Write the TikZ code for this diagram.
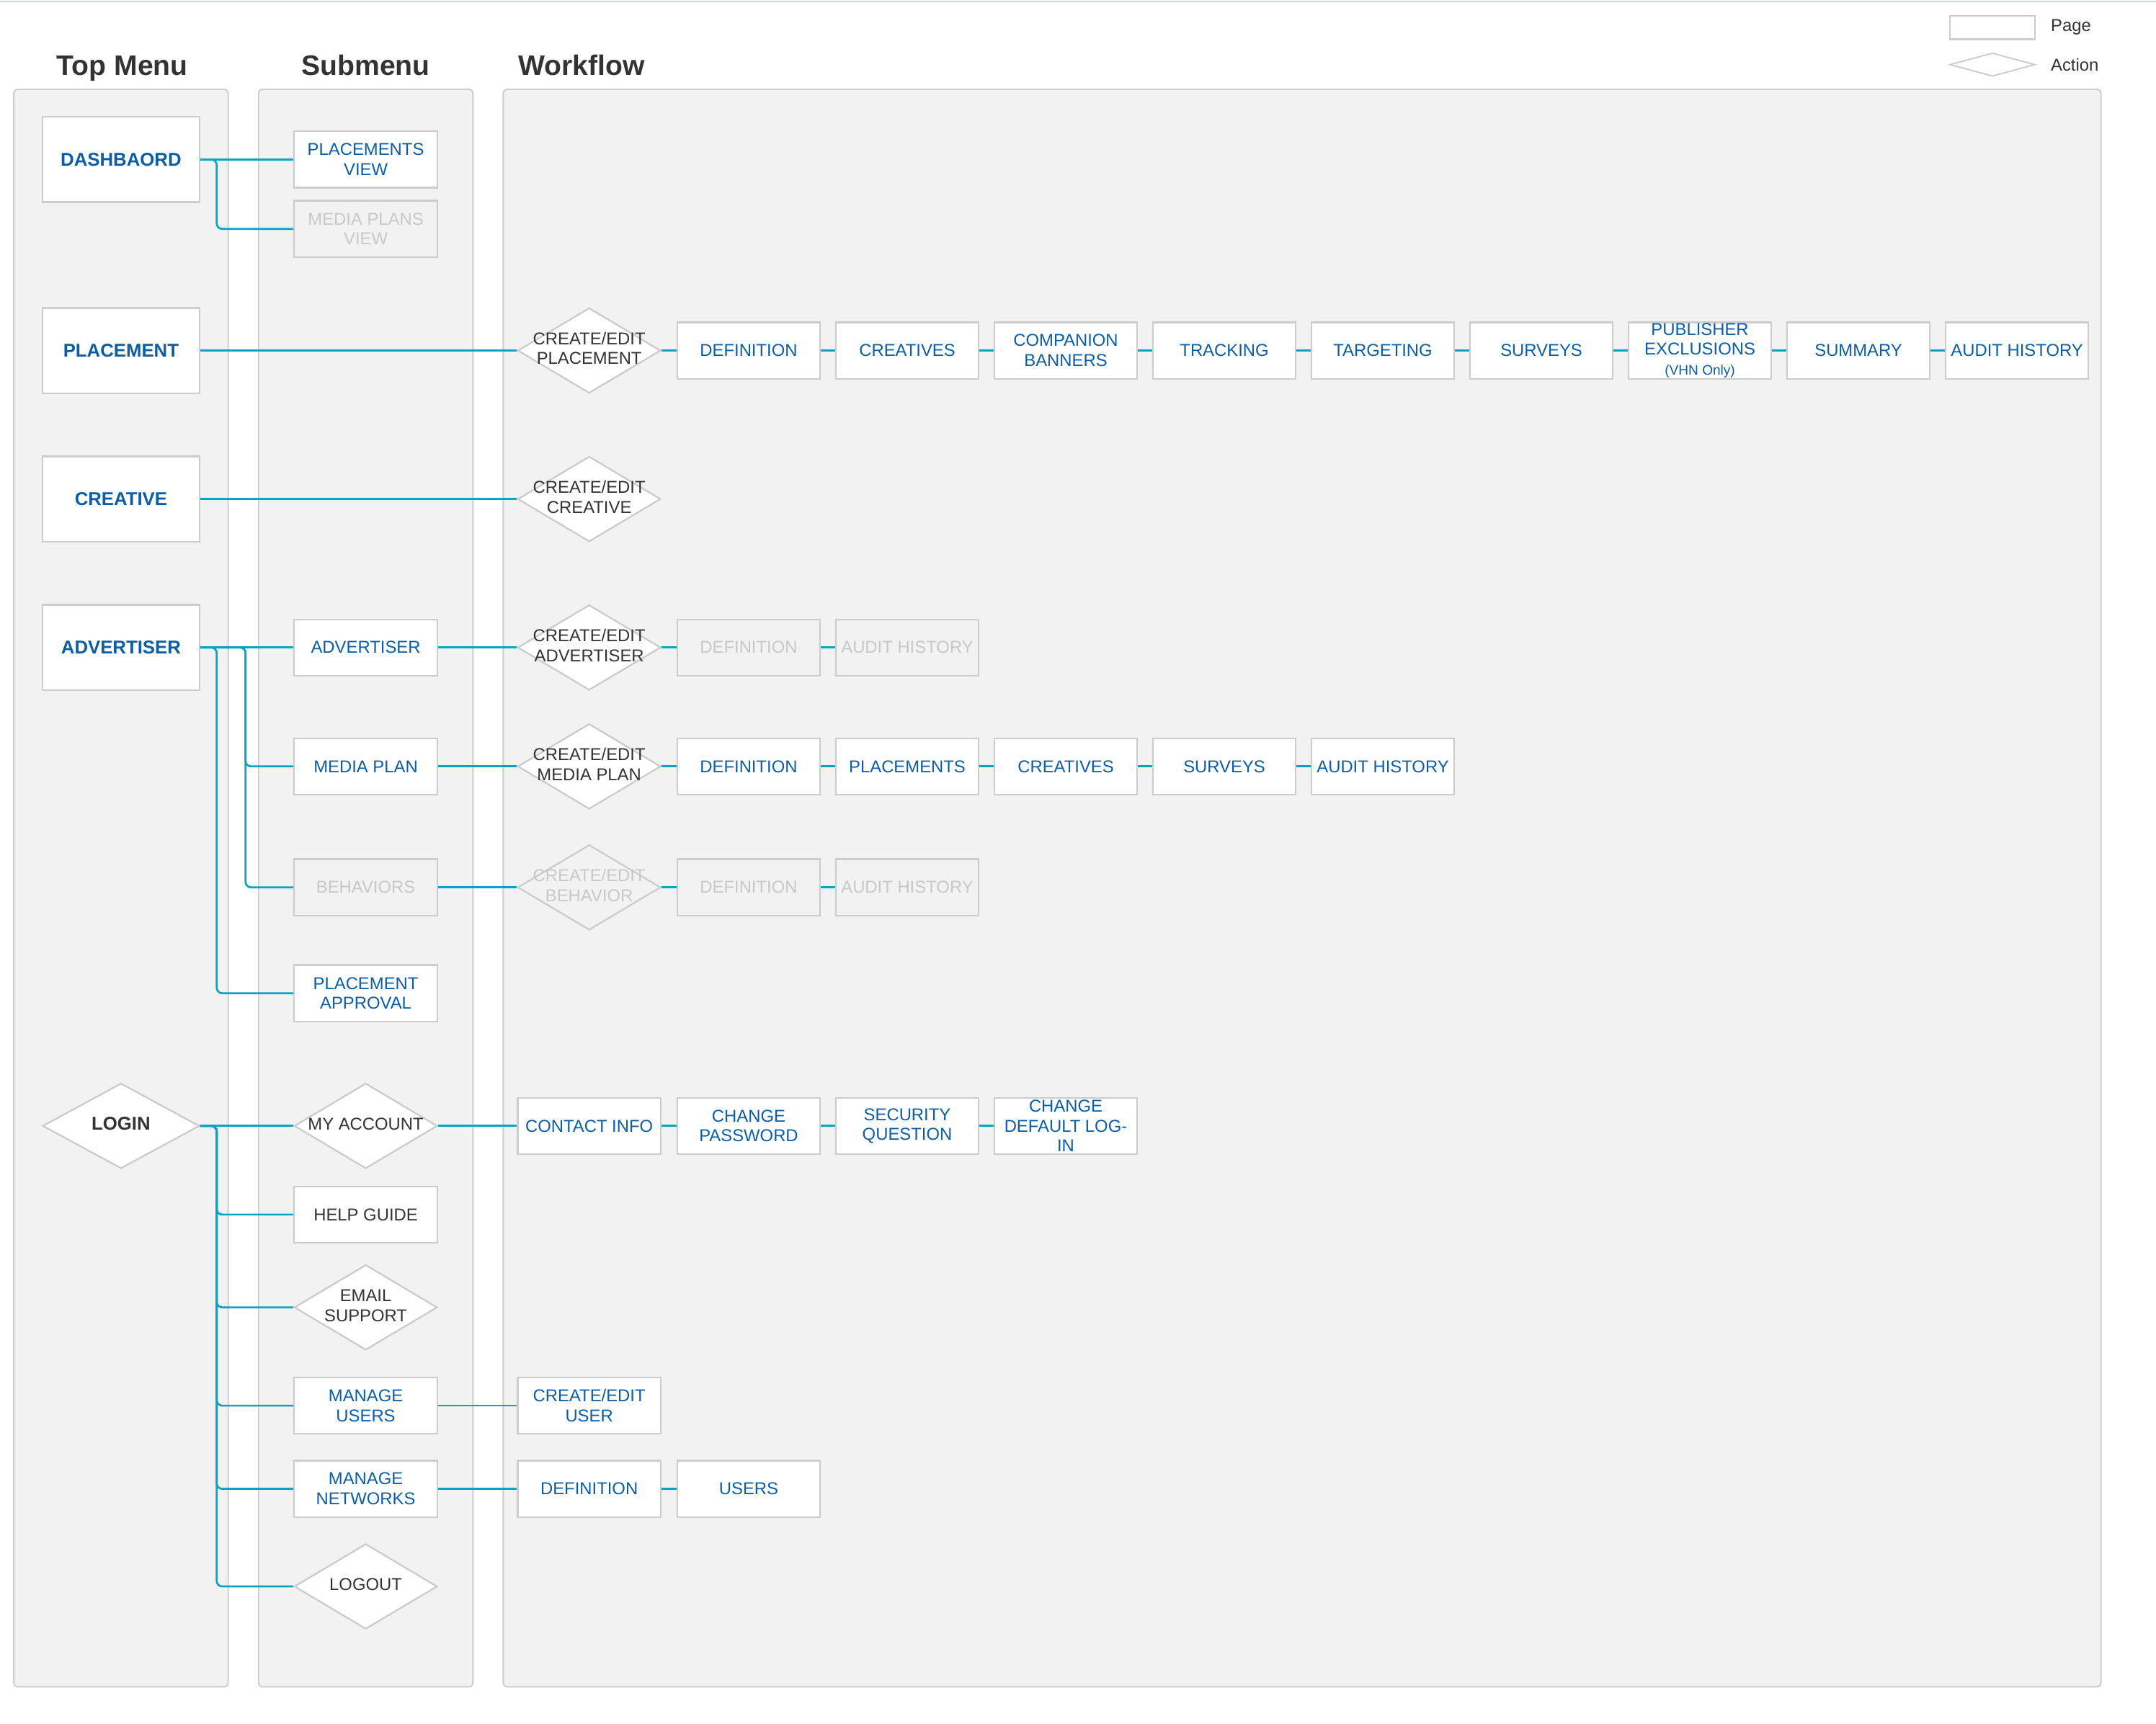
\documentclass[tikz,border=0pt]{standalone}
\usepackage{fontspec}
\setmainfont{Liberation Sans}
\usetikzlibrary{shapes.geometric,positioning}
\definecolor{linkblue}{HTML}{0B5EA6}
\definecolor{wire}{HTML}{0AA3C4}
\definecolor{edge}{HTML}{CCCCCC}
\definecolor{lanefill}{HTML}{F2F2F2}
\definecolor{ink}{HTML}{333333}
\definecolor{faded}{HTML}{C8C8C8}
\definecolor{rule}{HTML}{CBD8E6}
\newcommand\normsize{\fontsize{12.5}{14.5}\selectfont}
\newcommand\boldsize{\fontsize{13.5}{16}\selectfont\bfseries}
\newcommand\acttext[1]{\makebox[0pt]{\raisebox{-1.5pt}{\begin{tabular}{@{}c@{}}#1\end{tabular}}}}
\tikzset{
  lane/.style={draw=edge,fill=lanefill,line width=1pt,rounded corners=3pt},
  heading/.style={anchor=base,text=ink,font=\fontsize{20.5}{24}\selectfont\bfseries},
  page/.style={draw=edge,fill=white,line width=1.2pt,minimum width=104pt,minimum height=41pt,
    inner sep=0pt,align=center,text=linkblue,font=\normsize},
  topbox/.style={page,minimum width=114pt,minimum height=62pt,font=\boldsize},
  act/.style={diamond,draw=edge,fill=white,line width=1.2pt,minimum width=104pt,minimum height=62pt,
    inner sep=0pt,text=ink,font=\normsize},
  greyed/.style={fill=lanefill,text=faded},
  link/.style={draw=wire,line width=1.4pt},
  fork/.style={link,rounded corners=4pt}
}
\begin{document}
\begin{tikzpicture}[x=1pt,y=-1pt,node distance=10.1pt]
\useasboundingbox (0,0) rectangle (1568,1254);
\draw[rule,line width=1pt] (0,1)--(1568,1);
% lanes and headings
\foreach \a/\b in {10/166,188/344,366/1528}
  \draw[lane] (\a,65) rectangle (\b,1227);
\node[heading] at (89,54.5){Top Menu};
\node[heading] at (266,54.5){Submenu};
\node[heading] at (423,54.5){Workflow};
% legend
\node[page,minimum width=62pt,minimum height=17pt] (keypage) at (1449,20){};
\node[act,minimum width=62pt,minimum height=17pt,line width=1pt] (keyact) at (1449,47){};
\node[anchor=west,text=ink,font=\normsize] at (1488,20){Page};
\node[anchor=west,text=ink,font=\normsize] at (1488,47){Action};
% top menu
\node[topbox] (dash) at (88,116){DASHBAORD};
\node[topbox] (place) at (88,255){PLACEMENT};
\node[topbox] (creat) at (88,363){CREATIVE};
\node[topbox] (adv) at (88,471){ADVERTISER};
\node[act,minimum width=114pt,font=\boldsize] (login) at (88,819){\acttext{LOGIN}};
% submenu
\node[page] (pview) at (266,116){PLACEMENTS\\VIEW};
\node[page,greyed] (mview) at (266,166.5){MEDIA PLANS\\VIEW};
\node[page] (sadv) at (266,471){ADVERTISER};
\node[page] (mplan) at (266,557.5){MEDIA PLAN};
\node[page,greyed] (behav) at (266,645.5){BEHAVIORS};
\node[page] (papprove) at (266,722.5){PLACEMENT\\APPROVAL};
\node[act] (myacc) at (266,819){\acttext{MY ACCOUNT}};
\node[page,text=ink] (help) at (266,883.5){HELP GUIDE};
\node[act] (email) at (266,951){\acttext{EMAIL\\SUPPORT}};
\node[page] (musers) at (266,1022.5){MANAGE\\USERS};
\node[page] (mnets) at (266,1083){MANAGE\\NETWORKS};
\node[act] (logout) at (266,1154){\acttext{LOGOUT}};
% workflow: placement
\node[act] (cplace) at (428.5,255){\acttext{CREATE/EDIT\\PLACEMENT}};
\node[page,right=10.8pt of cplace] (pdef){DEFINITION};
\node[page,right=of pdef] (pcre){CREATIVES};
\node[page,right=of pcre] (pcomp){COMPANION\\BANNERS};
\node[page,right=of pcomp] (ptrack){TRACKING};
\node[page,right=of ptrack] (ptarget){TARGETING};
\node[page,right=of ptarget] (psurv){SURVEYS};
\node[page,right=of psurv] (ppub){PUBLISHER\\EXCLUSIONS\\{\fontsize{10}{11}\selectfont(VHN Only)}};
\node[page,right=of ppub] (psum){SUMMARY};
\node[page,right=of psum] (paudit){AUDIT HISTORY};
% workflow: creative, advertiser
\node[act] (ccreat) at (428.5,363){\acttext{CREATE/EDIT\\CREATIVE}};
\node[act] (cadv) at (428.5,471){\acttext{CREATE/EDIT\\ADVERTISER}};
\node[page,greyed,right=10.8pt of cadv] (adef){DEFINITION};
\node[page,greyed,right=of adef] (aaudit){AUDIT HISTORY};
% workflow: media plan
\node[act] (cmplan) at (428.5,557.5){\acttext{CREATE/EDIT\\MEDIA PLAN}};
\node[page,right=10.8pt of cmplan] (mdef){DEFINITION};
\node[page,right=of mdef] (mplc){PLACEMENTS};
\node[page,right=of mplc] (mcre){CREATIVES};
\node[page,right=of mcre] (msurv){SURVEYS};
\node[page,right=of msurv] (maudit){AUDIT HISTORY};
% workflow: behavior
\node[act,greyed] (cbehav) at (428.5,645.5){\acttext{CREATE/EDIT\\BEHAVIOR}};
\node[page,greyed,right=10.8pt of cbehav] (bdef){DEFINITION};
\node[page,greyed,right=of bdef] (baudit){AUDIT HISTORY};
% workflow: account, users, networks
\node[page] (contact) at (428.5,819){CONTACT INFO};
\node[page,right=10.8pt of contact] (chpass){CHANGE\\PASSWORD};
\node[page,right=of chpass] (secq){SECURITY\\QUESTION};
\node[page,right=of secq] (chlogin){CHANGE\\DEFAULT LOG-\\IN};
\node[page] (cuser) at (428.5,1022.5){CREATE/EDIT\\USER};
\node[page] (ndef) at (428.5,1083){DEFINITION};
\node[page,right=10.8pt of ndef] (nusers){USERS};
% connectors
\draw[fork] (dash.east)--++(12,0)|-(mview.west);
\draw[fork] (adv.east)--++(12,0)|-(papprove.west);
\draw[fork] (adv.east)--++(33,0)|-(mplan.west);
\draw[fork] (adv.east)--++(33,0)|-(behav.west);
\foreach \n in {help,email,musers,mnets,logout}
  \draw[fork] (login.east)--++(12,0)|-(\n.west);
\foreach \a/\b in {dash/pview,place/cplace,cplace/pdef,pdef/pcre,pcre/pcomp,pcomp/ptrack,
    ptrack/ptarget,ptarget/psurv,psurv/ppub,ppub/psum,psum/paudit,creat/ccreat,
    adv/sadv,sadv/cadv,cadv/adef,adef/aaudit,mplan/cmplan,cmplan/mdef,mdef/mplc,
    mplc/mcre,mcre/msurv,msurv/maudit,behav/cbehav,cbehav/bdef,bdef/baudit,
    login/myacc,myacc/contact,contact/chpass,chpass/secq,secq/chlogin,
    musers/cuser,mnets/ndef,ndef/nusers}
  \draw[link] (\a.east)--(\b.west);
\end{tikzpicture}
\end{document}
